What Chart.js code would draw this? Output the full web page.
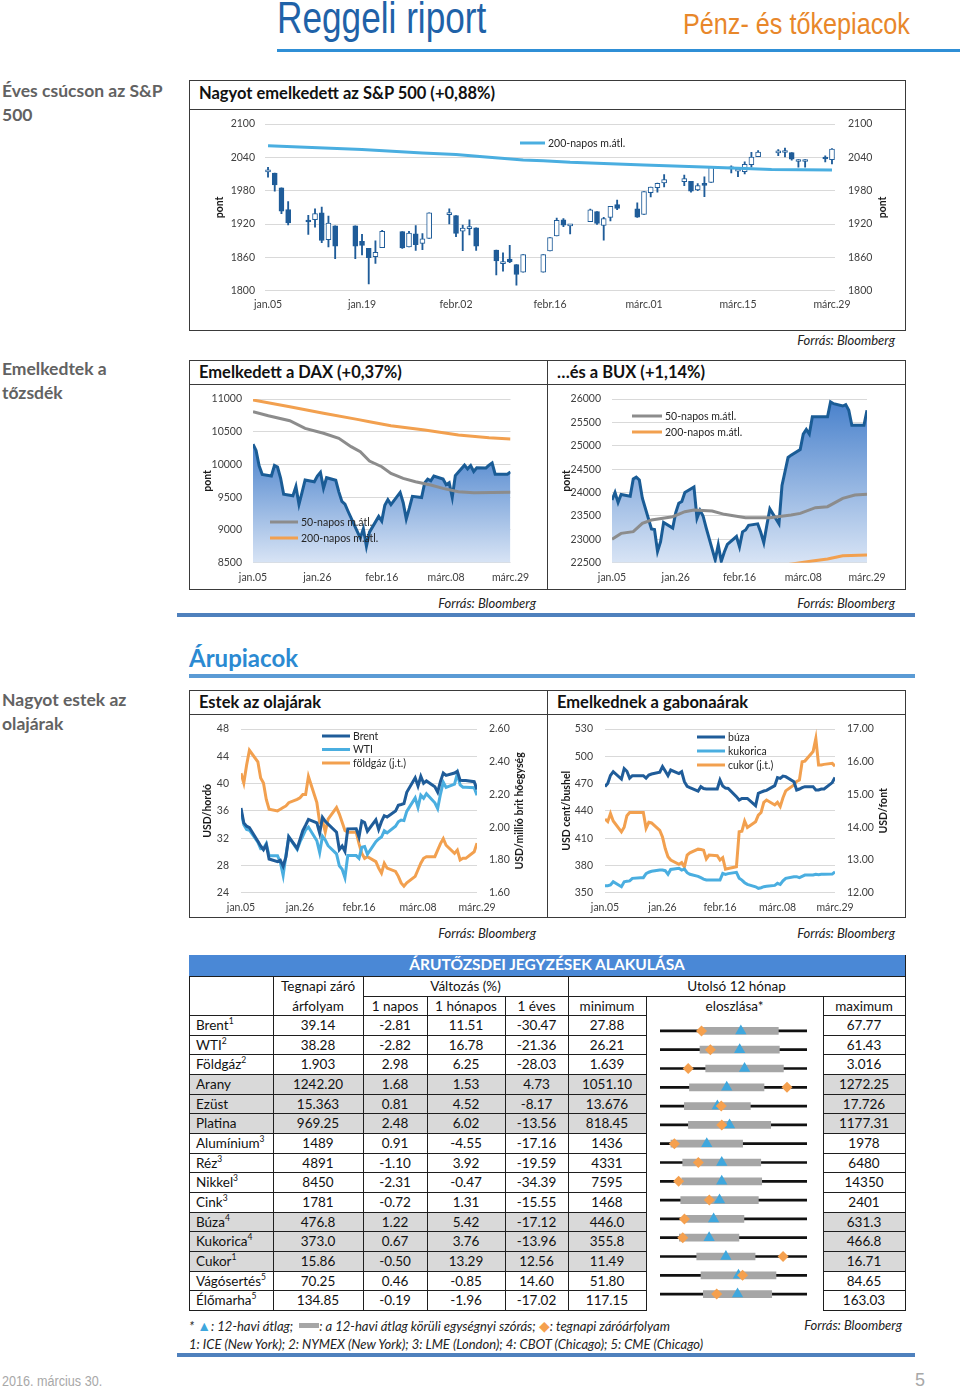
<!DOCTYPE html>
<html lang="hu">
<head>
<meta charset="utf-8">
<title>Reggeli riport</title>
<script src="https://cdn.jsdelivr.net/npm/chart.js@4.4.1/dist/chart.umd.min.js"></script>
<style>
html,body{margin:0;padding:0;background:#fff}
body{width:960px;height:1388px;position:relative;overflow:hidden;font-family:Lato,"Open Sans",sans-serif;color:#1a1a1a}
.a{position:absolute;white-space:nowrap}
#ttl{left:277px;top:-7px;font:44px "Liberation Sans",Arial,sans-serif;color:#1f62a8;transform:scaleX(.8);transform-origin:0 0}
#sub{left:683px;top:7px;font:30px "Liberation Sans",Arial,sans-serif;color:#e8872a;transform:scaleX(.84);transform-origin:0 0}
.side{left:2px;font:700 17.5px Lato,sans-serif;color:#626262;line-height:24px}
.box{border:1px solid #3a3a3a;box-sizing:border-box}
.bt{font:700 16.5px Lato,sans-serif;color:#111}
.src{font:italic 13px Lato,sans-serif;color:#222}
canvas{position:absolute}
.cell{position:absolute;text-align:center;font:13.5px Lato,sans-serif;color:#111;white-space:nowrap}
.cell sup{font-size:8.5px;line-height:0;vertical-align:6px}
</style>
</head>
<body>
<div class="a" id="ttl">Reggeli riport</div>
<div class="a" id="sub">Pénz- és tőkepiacok</div>
<div class="a" style="left:277px;top:49px;width:683px;height:3px;background:#2f8fd6"></div>

<div class="a side" style="top:79px">Éves csúcson az S&amp;P<br>500</div>
<div class="a box" style="left:189px;top:80px;width:717px;height:251px"></div>
<div class="a" style="left:189px;top:109px;width:717px;height:1px;background:#3a3a3a"></div>
<div class="a bt" style="left:199px;top:83px">Nagyot emelkedett az S&amp;P 500 (+0,88%)</div>
<canvas id="cSP" width="714" height="218" style="left:190px;top:111px"></canvas>
<div class="a src" style="right:65px;top:332px">Forrás: Bloomberg</div>

<div class="a side" style="top:357px">Emelkedtek a<br>tőzsdék</div>
<div class="a box" style="left:189px;top:360px;width:717px;height:230px"></div>
<div class="a" style="left:189px;top:384px;width:717px;height:1px;background:#3a3a3a"></div>
<div class="a" style="left:547px;top:360px;width:1px;height:230px;background:#3a3a3a"></div>
<div class="a bt" style="left:199px;top:362px">Emelkedett a DAX (+0,37%)</div>
<div class="a bt" style="left:557px;top:362px">…és a BUX (+1,14%)</div>
<canvas id="cDAX" width="356" height="204" style="left:190px;top:385px"></canvas>
<canvas id="cBUX" width="356" height="204" style="left:548px;top:385px"></canvas>
<div class="a src" style="right:424px;top:595px">Forrás: Bloomberg</div>
<div class="a src" style="right:65px;top:595px">Forrás: Bloomberg</div>
<div class="a" style="left:177px;top:613px;width:738px;height:4px;background:#4f81bd"></div>

<div class="a" style="left:189px;top:643px;font:700 24px Lato,sans-serif;color:#2b8ad2">Árupiacok</div>
<div class="a" style="left:189px;top:674px;width:726px;height:4px;background:#5b9bd5"></div>

<div class="a side" style="top:688px">Nagyot estek az<br>olajárak</div>
<div class="a box" style="left:189px;top:690px;width:717px;height:228px"></div>
<div class="a" style="left:189px;top:714px;width:717px;height:1px;background:#3a3a3a"></div>
<div class="a" style="left:547px;top:690px;width:1px;height:228px;background:#3a3a3a"></div>
<div class="a bt" style="left:199px;top:692px">Estek az olajárak</div>
<div class="a bt" style="left:557px;top:692px">Emelkednek a gabonaárak</div>
<canvas id="cOIL" width="356" height="202" style="left:190px;top:715px"></canvas>
<canvas id="cGRN" width="356" height="202" style="left:548px;top:715px"></canvas>
<div class="a src" style="right:424px;top:925px">Forrás: Bloomberg</div>
<div class="a src" style="right:65px;top:925px">Forrás: Bloomberg</div>

<canvas id="cDIST" width="177" height="295" style="left:646px;top:1015px;z-index:2"></canvas>

<div class="a src" style="left:189px;top:1317px;font-size:13px">* <span style="color:#3fa7dd;font-style:normal;font-size:14px">▲</span>: 12-havi átlag; &nbsp;<span style="display:inline-block;width:20px;height:5px;background:#a6a6a6;vertical-align:3px"></span>: a 12-havi átlag körüli egységnyi szórás; <span style="color:#f5a04e;font-style:normal;font-size:14px">◆</span>: tegnapi záróárfolyam</div>
<div class="a src" style="right:58px;top:1317px">Forrás: Bloomberg</div>
<div class="a src" style="left:189px;top:1336px">1: ICE (New York); 2: NYMEX (New York); 3: LME (London); 4: CBOT (Chicago); 5: CME (Chicago)</div>
<div class="a" style="left:177px;top:1353px;width:738px;height:4px;background:#4f81bd"></div>
<div class="a" style="left:2px;top:1373px;font:14px 'Liberation Sans',Arial,sans-serif;color:#a8a8a8;transform:scaleX(.9);transform-origin:0 0">2016. március 30.</div>
<div class="a" style="left:915px;top:1370px;font:18px 'Liberation Sans',Arial,sans-serif;color:#a8a8a8">5</div>

<script>
// ---------- DATA ----------
// weekday index counted from jan.05 (2016); holidays carry the previous value
const days = [0,1,2,3,6,7,8,9,10,13,14,15,16,17,20,21,22,23,24,27,28,29,30,31,34,35,36,37,38,41,42,43,44,45,48,49,50,51,52,55,56,57,58,59,62,63,64,65,66,69,70,71,72,73,76,77,78,79,80,83,84];

const spTickDays = [0,14,28,42,56,70,84];
const spTickLabels = ['jan.05','jan.19','febr.02','febr.16','márc.01','márc.15','márc.29'];
const tickDays = [0,21,42,63,84];
const tickLabels = ['jan.05','jan.26','febr.16','márc.08','márc.29'];

const spOpen = [2013.78,2011.71,1985.32,1945.97, 1926.12,1927.83,1940.34,1891.68,1916.68, 1916.68,1888.66,1876.18,1861.46,1877.40, 1906.28,1878.79,1902.52,1885.22,1894.00, 1936.94,1935.26,1907.07,1911.67,1913.07, 1873.25,1848.46,1857.10,1847.00,1833.40, 1833.40,1871.44,1898.80,1927.57,1916.74, 1924.44,1942.38,1917.56,1931.87,1954.95, 1947.13,1937.09,1976.60,1985.60,1994.01, 1996.11,1996.88,1981.44,1990.97,1994.71, 2019.27,2015.27,2014.24,2026.90,2041.16, 2047.88,2048.64,2048.55,2032.48,2032.48, 2037.89,2035.75];
const spHigh = [2021.94,2011.71,1985.32,1960.40, 1935.65,1947.38,1950.33,1934.47,1916.68, 1916.68,1901.44,1876.18,1889.85,1908.85, 1906.28,1906.73,1916.99,1902.96,1940.24, 1947.20,1935.26,1918.01,1927.35,1913.07, 1873.25,1868.25,1881.60,1847.00,1864.78, 1864.78,1895.77,1930.68,1930.00,1918.78, 1946.70,1942.38,1932.08,1951.83,1962.96, 1958.27,1978.35,1986.45,1993.69,2009.13, 2008.16,1996.88,1992.69,2005.08,2022.37, 2024.57,2015.94,2032.02,2049.06,2052.36, 2053.91,2056.60,2048.55,2036.04,2036.04, 2042.67,2055.91];
const spLow = [2004.17,1979.05,1938.83,1918.46, 1901.10,1914.35,1886.41,1878.93,1857.83, 1857.83,1864.60,1812.29,1848.98,1877.40, 1875.97,1878.79,1872.70,1873.65,1894.00, 1920.03,1897.29,1872.23,1900.52,1872.65, 1828.46,1834.94,1850.32,1810.10,1833.40, 1833.40,1871.44,1898.80,1915.09,1902.17, 1924.44,1919.44,1891.00,1925.41,1945.78, 1931.81,1937.09,1968.80,1977.37,1986.77, 1989.10,1977.43,1979.84,1969.25,1994.71, 2012.05,2005.23,2010.04,2022.36,2041.16, 2043.14,2040.57,2034.86,2022.49,2022.49, 2031.96,2028.31];
const spClose = [2016.71,1990.26,1943.09,1922.03, 1923.67,1938.68,1890.28,1921.84,1880.33, 1880.33,1881.33,1859.33,1868.99,1906.90, 1877.08,1903.63,1882.95,1893.36,1940.24, 1939.38,1903.03,1912.53,1915.45,1880.05, 1853.44,1852.21,1851.86,1829.08,1864.78, 1864.78,1895.58,1926.82,1917.83,1917.78, 1945.50,1921.27,1929.80,1951.70,1948.05, 1932.23,1978.35,1986.45,1993.40,1999.99, 2001.76,1979.26,1989.26,1989.57,2022.19, 2019.64,2015.93,2027.22,2040.59,2049.58, 2051.60,2049.80,2036.71,2035.94,2035.94, 2037.05,2055.01];
const spMaDays = [0,14,23,28,32,38,41,45,56,66,75,84];
const spMa200 = [2061,2054,2048,2045,2041,2035,2034,2031,2026,2022,2018,2017];

const dax = [10310,10214,9979,9849, 9825,9985,9960,9794,9545, 9521,9664,9391,9574,9764, 9736,9822,9880,9639,9798, 9758,9582,9435,9393,9286, 8979,8879,9017,8752,8967, 9207,9135,9377,9463,9388, 9573,9416,9167,9332,9513, 9495,9717,9776,9751,9824, 9778,9692,9723,9498,9831, 9990,9933,9983,9892,9950, 9948,9990,10022,9851,9851, 9851,9887];
const daxMa50Days = [0,5,12,17,23,28,32,35,38,42,45,49,53,58,62,67,72,84];
const daxMa50 = [10806,10745,10669,10552,10476,10399,10272,10195,10053,9966,9864,9788,9737,9686,9635,9584,9569,9574];
const daxMa200Days = [0,12,23,34,38,45,56,67,77,84];
const daxMa200 = [10985,10883,10781,10689,10654,10593,10526,10450,10409,10389];

const bux = [23840,24000,23790,23960, 23920,24290,24330,24270,23880, 23220,23210,22740,22950,23360, 23240,23570,23770,23810,24000, 24120,23450,23620,23500,23250, 22560,22880,22530,22730,22890, 23060,22840,23160,23200,23300, 23330,23150,22930,23300,23650, 23330,24150,24450,24750,24800, 24920,25250,25350,25250,25620, 25620,25620,25620,25940,25900, 25850,25880,25760,25440,25440, 25440,25760];
const buxMa50Days = [0,3,7,10,13,20,24,27,33,37,44,52,59,62,67,71,73,76,80,84];
const buxMa50 = [23000,23127,23163,23341,23413,23484,23591,23626,23605,23534,23462,23462,23519,23555,23676,23698,23769,23876,23947,23961];
const buxMa200Days = [54,58,66,71,76,84];
const buxMa200 = [22440,22460,22536,22578,22650,22664];

const brent = [36.42,34.23,33.75,33.55, 31.55,30.86,30.31,31.03,28.94, 28.55,28.76,27.88,29.25,32.18, 30.50,31.80,33.10,33.89,34.74, 34.24,32.72,35.04,34.46,34.06, 32.88,30.32,30.84,30.06,33.36, 33.39,32.18,34.50,34.28,33.01, 34.69,33.27,34.41,35.29,35.10, 35.97,36.81,36.93,37.07,38.72, 40.84,39.65,41.07,40.05,40.39, 39.53,38.74,40.33,41.54,41.20, 41.54,41.79,40.47,40.44,40.44, 40.27,39.14];
const wti = [35.97,33.97,33.27,33.16, 31.41,30.44,30.48,31.20,29.42, 29.42,28.46,26.55,29.53,32.19, 30.34,31.45,32.30,33.22,33.62, 31.62,29.88,32.28,31.72,30.89, 29.69,27.94,27.45,26.21,29.44, 29.44,29.04,30.66,30.77,29.64, 31.48,31.87,32.15,33.07,32.78, 33.75,34.40,34.66,34.57,35.92, 37.90,36.50,38.29,37.84,38.50, 37.18,36.34,38.46,40.20,39.44, 39.91,41.45,39.79,39.46,39.46, 39.39,38.28];
const natgas = [2.33,2.27,2.38,2.47, 2.40,2.30,2.27,2.17,2.11, 2.10,2.11,2.12,2.13,2.15, 2.17,2.18,2.20,2.20,2.31, 2.15,2.03,2.04,1.97,2.05, 2.12,2.08,2.03,1.98,1.97, 1.97,1.90,1.84,1.81,1.82, 1.79,1.75,1.72,1.78,1.75, 1.73,1.70,1.66,1.64,1.66, 1.70,1.74,1.78,1.81,1.82, 1.82,1.86,1.90,1.93,1.89, 1.84,1.86,1.80,1.81,1.81, 1.85,1.903];

const wheat = [466.6,470.2,479,483, 475,486.5,483.5,476,478.7, 478.7,478.7,476,479.4,480.5, 482.5,488.6,483.8,478.7,484.9, 481,483,472,467,465.5, 461.8,466.6,464.5,464,464, 464,473.9,467.3,465,464.7, 455.6,451.9,453.7,453.7,453.7, 445.7,459.2,460.5,461.8,462.5, 467.7,476.5,475.7,478.3,477.6, 472,462.9,464,465.5,466.6, 466.6,462.9,462.9,464,464, 471.1,476.8];
const corn = [357.7,357.7,358.5,362, 356.6,362,362.5,363,365.8, 366.5,366.5,371,372.5,373.5, 374.9,374.9,374.2,370.2,375.6, 376.8,374.9,376,372,370.2, 368,366.5,365,364,364, 364,364,371.3,370.2,371, 372.4,366,363.9,361,359.2, 356.5,354.8,355.5,356.6,357, 358,360.3,359,363,365.8, 367.6,367.6,366.5,368,369.4, 369.4,370.2,369.8,370.2,370.2, 370.5,373.0];
const sugar = [14.25,14.17,14.42,14.19, 13.86,14.0,14.35,14.45,14.45, 14.45,14.45,13.97,14.15,14.13, 13.9,13.7,13.35,13.1,13.0, 12.87,12.92,12.79,13.15,13.22, 13.33,13.32,13.30,13.03,13.15, 13.13,13.0,13.07,12.72,12.74, 12.79,13.86,13.88,14.19,13.99, 14.17,14.37,14.45,14.76,14.83, 14.68,14.76,14.63,14.90,15.11, 15.29,15.40,15.44,16.00,16.02, 16.31,16.71,15.90,15.90,15.92, 15.95,15.86];

const tNames = ['Brent','WTI','Földgáz','Arany','Ezüst','Platina','Alumínium','Réz','Nikkel','Cink','Búza','Kukorica','Cukor','Vágósertés','Élőmarha'];
const tExch = ['1','2','2','','','','3','3','3','3','4','4','1','5','5'];
const tClose = ['39.14','38.28','1.903','1242.20','15.363','969.25','1489','4891','8450','1781','476.8','373.0','15.86','70.25','134.85'];
const tChg1d = ['-2.81','-2.82','2.98','1.68','0.81','2.48','0.91','-1.10','-2.31','-0.72','1.22','0.67','-0.50','0.46','-0.19'];
const tChg1m = ['11.51','16.78','6.25','1.53','4.52','6.02','-4.55','3.92','-0.47','1.31','5.42','3.76','13.29','-0.85','-1.96'];
const tChg1y = ['-30.47','-21.36','-28.03','4.73','-8.17','-13.56','-17.16','-19.59','-34.39','-15.55','-17.12','-13.96','12.56','14.60','-17.02'];
const tMin = ['27.88','26.21','1.639','1051.10','13.676','818.45','1436','4331','7595','1468','446.0','355.8','11.49','51.80','117.15'];
const tMax = ['67.77','61.43','3.016','1272.25','17.726','1177.31','1978','6480','14350','2401','631.3','466.8','16.71','84.65','163.03'];
const tMean = [49.82,45.30,2.431,1151.5,15.256,988.2,1608.4,5233.6,10432,1845.9,513.6,392.9,13.83,69.34,141.35];
const tStd = [10.17,9.51,0.364,56.06,0.909,100.5,132.2,570.6,1837,246.3,38.2,22.5,1.036,8.38,10.67];

// ---------- STYLE ----------
const C = {dark:'#1f5c99', light:'#4aaee0', orange:'#f2a04f', gray:'#8c8c8c', grid:'#d9d9d9'};
Chart.defaults.font.family = 'Lato, "Open Sans", sans-serif';
Chart.defaults.font.size = 10.5;
Chart.defaults.color = '#404040';

const xy = (ds, vs) => ds.map((d,i)=>({x:d, y:vs[i]}));

function overlay(cfg){
  return {id:'ov', afterDatasetsDraw(chart){
    const ctx=chart.ctx, a=chart.chartArea;
    if(cfg.legend){
      const L=cfg.legend;
      L.items.forEach((di,k)=>{
        const y=L.y+k*L.dy, ds=chart.data.datasets[di];
        ctx.save();
        ctx.strokeStyle=ds.borderColor; ctx.lineWidth=3;
        ctx.beginPath(); ctx.moveTo(L.x,y); ctx.lineTo(L.x+L.len,y); ctx.stroke();
        ctx.fillStyle='#262626'; ctx.font='10.5px Lato'; ctx.textAlign='left'; ctx.textBaseline='middle';
        ctx.fillText(ds.label, L.x+L.len+3, y+0.5);
        ctx.restore();
      });
    }
    (cfg.titles||[]).forEach(t=>{
      ctx.save(); ctx.translate(t.x,(a.top+a.bottom)/2); ctx.rotate(-Math.PI/2);
      ctx.font='bold 10.5px Lato'; ctx.fillStyle='#1a1a1a'; ctx.textAlign='center'; ctx.textBaseline='middle';
      ctx.fillText(t.text,0,0); ctx.restore();
    });
  }};
}

function xAxis(tDays, tLabels, min, max, h, pad){
  return {type:'linear', min, max, offset:false, grid:{display:false, drawTicks:false, offset:false}, border:{display:false},
    afterBuildTicks: s => { s.ticks = tDays.map(v=>({value:v})); },
    afterFit: s => { s.height = h; s.paddingLeft = 0; s.paddingRight = 0; },
    ticks:{autoSkip:false, maxRotation:0, padding:pad, callback:(v,i)=>tLabels[i]}};
}
function yAxis(pos, min, max, step, w, pad, grid, dec){
  return {type:'linear', axis:'y', position:pos, min, max, grid:{display:grid, color:C.grid, drawTicks:false}, border:{display:false},
    afterFit: s => { s.width = w; s.paddingTop = 0; s.paddingBottom = 0; },
    ticks:{stepSize:step, padding:pad, callback: v => dec ? Number(v).toFixed(dec) : String(Math.round(v))}};
}
function base(padTop, padRight, scales){
  return {responsive:false, animation:false, devicePixelRatio:1, events:[],
    layout:{padding:{top:padTop, right:padRight, left:0, bottom:0}},
    plugins:{legend:{display:false}, tooltip:{enabled:false}}, scales};
}
function areaGrad(vals){
  return c => {
    const ch=c.chart, a=ch.chartArea;
    if(!a) return 'rgba(0,0,0,0)';
    const top = ch.scales.y.getPixelForValue(Math.max(...vals));
    const g = ch.ctx.createLinearGradient(0, Math.max(a.top, top), 0, a.bottom);
    g.addColorStop(0,'#4a82cc'); g.addColorStop(1,'#d8e4f5');
    return g;
  };
}
const lineDS = (label, data, color, extra) => Object.assign({type:'line', label, data, borderColor:color, borderWidth:3, pointRadius:0, tension:0}, extra||{});

// ---------- S&P 500 ----------
const upDay = spOpen.map((o,i)=> spClose[i] >= o);
new Chart(document.getElementById('cSP'), {
  type:'bar',
  data:{datasets:[
    lineDS('200-napos m.átl.', xy(spMaDays, spMa200), C.light, {order:0}),
    {label:'test', data: days.map((d,i)=>({x:d, y:[spOpen[i], spClose[i]]})),
      backgroundColor: upDay.map(u=> u ? '#ffffff' : C.dark), borderColor:C.dark, borderWidth:1,
      borderSkipped:false, barThickness:5, minBarLength:2, grouped:false, order:1},
    {label:'kanóc', data: days.map((d,i)=>({x:d, y:[spLow[i], spHigh[i]]})),
      backgroundColor:C.dark, borderWidth:0, barThickness:1.2, grouped:false, order:2}
  ]},
  options: base(13, 0, {
    x: xAxis(spTickDays, spTickLabels, -0.45, 84.45, 38.3, 8),
    y: yAxis('left', 1800, 2100, 60, 75, 10, true),
    y2: yAxis('right', 1800, 2100, 60, 69, 13, false)
  }),
  plugins:[overlay({legend:{x:330, y:32, dy:16, len:25, items:[0]}, titles:[{text:'pont', x:30},{text:'pont', x:693}]})]
});

// ---------- DAX ----------
new Chart(document.getElementById('cDAX'), {
  type:'line',
  data:{datasets:[
    lineDS('DAX', xy(days, dax), '#1a5c96', {fill:'start', backgroundColor: areaGrad(dax), order:2}),
    lineDS('50-napos m.átl.', xy(daxMa50Days, daxMa50), C.gray, {order:1}),
    lineDS('200-napos m.átl.', xy(daxMa200Days, daxMa200), C.orange, {order:0})
  ]},
  options: base(14, 35.5, {
    x: xAxis(tickDays, tickLabels, 0, 84, 26.3, 9),
    y: yAxis('left', 8500, 11000, 500, 63, 11, true)
  }),
  plugins:[overlay({legend:{x:80, y:137, dy:16, len:28, items:[1,2]}, titles:[{text:'pont', x:18}]})]
});

// ---------- BUX ----------
new Chart(document.getElementById('cBUX'), {
  type:'line',
  data:{datasets:[
    lineDS('BUX', xy(days, bux), '#1a5c96', {fill:'start', backgroundColor: areaGrad(bux), order:2}),
    lineDS('50-napos m.átl.', xy(buxMa50Days, buxMa50), C.gray, {order:1}),
    lineDS('200-napos m.átl.', xy(buxMa200Days, buxMa200), C.orange, {order:0})
  ]},
  options: base(14, 37, {
    x: xAxis(tickDays, tickLabels, 0, 84, 26.3, 9),
    y: yAxis('left', 22500, 26000, 500, 64, 11, true)
  }),
  plugins:[overlay({legend:{x:84, y:31, dy:16, len:30, items:[1,2]}, titles:[{text:'pont', x:19}]})]
});

// ---------- Oil ----------
new Chart(document.getElementById('cOIL'), {
  type:'line',
  data:{datasets:[
    lineDS('Brent', xy(days, brent), C.dark, {yAxisID:'y'}),
    lineDS('WTI', xy(days, wti), C.light, {yAxisID:'y'}),
    lineDS('földgáz (j.t.)', xy(days, natgas), C.orange, {yAxisID:'y2'})
  ]},
  options: base(14, 0, {
    x: xAxis(tickDays, tickLabels, 0, 84, 24.3, 9),
    y: yAxis('left', 24, 48, 4, 51, 12, true),
    y2: yAxis('right', 1.6, 2.6, 0.2, 69, 12, false, 2)
  }),
  plugins:[overlay({legend:{x:132, y:21, dy:13.5, len:28, items:[0,1,2]}, titles:[{text:'USD/hordó', x:18},{text:'USD/millió brit hőegység', x:330}]})]
});

// ---------- Grains ----------
new Chart(document.getElementById('cGRN'), {
  type:'line',
  data:{datasets:[
    lineDS('búza', xy(days, wheat), C.dark, {yAxisID:'y'}),
    lineDS('kukorica', xy(days, corn), C.light, {yAxisID:'y'}),
    lineDS('cukor (j.t.)', xy(days, sugar), C.orange, {yAxisID:'y2'})
  ]},
  options: base(14, 0, {
    x: xAxis(tickDays, tickLabels, 0, 84, 24.3, 9),
    y: yAxis('left', 350, 530, 30, 57, 12, true),
    y2: yAxis('right', 12, 17, 1, 69, 12, false, 2)
  }),
  plugins:[overlay({legend:{x:149, y:22, dy:14, len:28, items:[0,1,2]}, titles:[{text:'USD cent/bushel', x:19},{text:'USD/font', x:336}]})]
});

// ---------- Table ----------
const colX = [189,273,363,427,505,568,646,823,905];
const yA = 955, yB = 976, yC = 996, yD = 1015, rH = 19.67, nR = tNames.length;
const shaded = [3,4,5,10,11,12];
const LC = '#1e1e1e';
function div(css, html){ const d=document.createElement('div'); d.className='a'; d.style.cssText=css; if(html!==undefined) d.innerHTML=html; document.body.appendChild(d); return d; }
function rect(x,y,w,h,c){ div(`left:${x}px;top:${y}px;width:${w}px;height:${h}px;background:${c}`); }
function hl(x0,x1,y){ rect(x0, Math.round(y), x1-x0+1, 1, LC); }
function vl(x,y0,y1){ rect(x, Math.round(y0), 1, Math.round(y1-y0), LC); }
function cell(t, x0, x1, yc, left){
  const d=document.createElement('div'); d.className='cell';
  d.style.cssText=`left:${x0+(left?7:0)}px;top:${yc-10}px;width:${x1-x0-(left?7:0)}px;height:20px;line-height:20px;text-align:${left?'left':'center'}`;
  d.innerHTML=t; document.body.appendChild(d);
}
rect(colX[0], yA, colX[8]-colX[0]+1, yB-yA, '#4a88d6');
div(`left:${colX[0]}px;top:${yA}px;width:${colX[8]-colX[0]}px;height:${yB-yA}px;line-height:${yB-yA+1}px;text-align:center;font:700 15.5px Lato,sans-serif;color:#fff`, 'ÁRUTŐZSDEI JEGYZÉSEK ALAKULÁSA');
shaded.forEach(i=>{ const y=yD+i*rH; rect(colX[0], y, colX[6]-colX[0], rH, '#d9d9d9'); rect(colX[7], y, colX[8]-colX[7], rH, '#d9d9d9'); });
hl(colX[0], colX[8], yB);
hl(colX[2], colX[8], yC);
for(let i=0;i<=nR;i++){ const y=yD+i*rH; hl(colX[0], colX[6], y); hl(colX[7], colX[8], y); }
[0,1,2,5,8].forEach(k=> vl(colX[k], yB, yD+nR*rH+1));
[3,4,6,7].forEach(k=> vl(colX[k], yC, yD+nR*rH+1));
vl(colX[8], yA, yB);
cell('Tegnapi záró', colX[1], colX[2], (yB+yC)/2);
cell('árfolyam', colX[1], colX[2], (yC+yD)/2);
cell('Változás (%)', colX[2], colX[5], (yB+yC)/2);
cell('Utolsó 12 hónap', colX[5], colX[8], (yB+yC)/2);
['1 napos','1 hónapos','1 éves','minimum','eloszlása*','maximum'].forEach((t,k)=> cell(t, colX[k+2], colX[k+3], (yC+yD)/2));
tNames.forEach((n,i)=>{
  const yc = yD + i*rH + rH/2;
  cell(n + (tExch[i] ? '<sup>'+tExch[i]+'</sup>' : ''), colX[0], colX[1], yc, true);
  [tClose[i], tChg1d[i], tChg1m[i], tChg1y[i], tMin[i]].forEach((v,k)=> cell(v, colX[k+1], colX[k+2], yc));
  cell(tMax[i], colX[7], colX[8], yc);
});

// distribution column: position inside each row's 12-month min..max range
const norm = (i, v) => (v - parseFloat(tMin[i])) / (parseFloat(tMax[i]) - parseFloat(tMin[i]));
new Chart(document.getElementById('cDIST'), {
  type:'bar',
  data:{labels:tNames, datasets:[
    {type:'scatter', label:'tegnapi záróárfolyam', data: tNames.map((n,i)=>({x:norm(i, parseFloat(tClose[i])), y:n})),
      pointStyle:'rectRot', pointRadius:5.5, backgroundColor:'#f5a04e', borderColor:'#f5a04e', borderWidth:0, order:0, clip:false},
    {type:'scatter', label:'12-havi átlag', data: tNames.map((n,i)=>({x:norm(i, tMean[i]), y:n})),
      pointStyle:'triangle', pointRadius:6.5, backgroundColor:'#3fa7dd', borderColor:'#3fa7dd', borderWidth:0, order:1, clip:false},
    {label:'szórás', data: tNames.map((n,i)=>[norm(i, tMean[i]-tStd[i]), norm(i, tMean[i]+tStd[i])]),
      backgroundColor:'#a6a6a6', barThickness:7, grouped:false, borderSkipped:false, order:2},
    {label:'min–max', data: tNames.map((n,i)=>[norm(i, parseFloat(tMin[i])), norm(i, parseFloat(tMax[i]))]),
      backgroundColor:'#111111', barThickness:2, grouped:false, borderSkipped:false, order:3}
  ]},
  options:{indexAxis:'y', responsive:false, animation:false, devicePixelRatio:1, events:[],
    layout:{padding:{left:14, right:16, top:0, bottom:0}},
    plugins:{legend:{display:false}, tooltip:{enabled:false}},
    scales:{x:{type:'linear', min:0, max:1, display:false}, y:{type:'category', display:false, offset:true}}}
});
</script>
</body>
</html>
